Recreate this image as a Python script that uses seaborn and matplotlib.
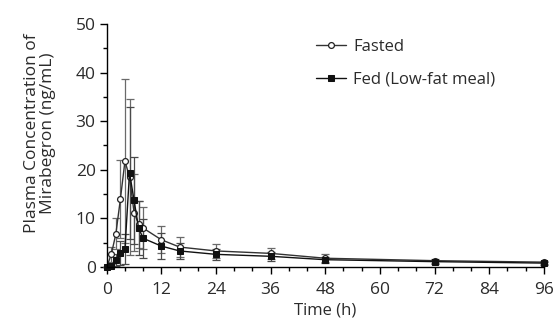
import numpy as np
import pandas as pd
import matplotlib
matplotlib.use("Agg")
import matplotlib.pyplot as plt
import seaborn as sns
from matplotlib.ticker import MultipleLocator

# Mean plasma concentration (ng/mL) with SD
time_h = [0, 1, 2, 3, 4, 5, 6, 7, 8, 12, 16, 24, 36, 48, 72, 96]
fasted_mean = [0.0, 2.6, 6.8, 14.0, 21.8, 18.5, 11.2, 8.8, 8.0, 5.6, 4.1, 3.3, 2.8, 1.8, 1.3, 1.0]
fasted_sd = [0.0, 1.5, 3.2, 8.0, 16.8, 16.0, 8.0, 4.8, 4.4, 2.8, 2.0, 1.5, 1.1, 0.8, 0.4, 0.3]
fed_mean = [0.0, 0.3, 1.4, 2.9, 3.7, 19.4, 13.7, 8.0, 5.9, 4.3, 3.3, 2.6, 2.2, 1.5, 1.1, 0.8]
fed_sd = [0.0, 0.4, 1.2, 2.4, 3.0, 13.6, 9.0, 5.6, 4.0, 2.6, 1.7, 1.2, 0.9, 0.6, 0.4, 0.3]

df = pd.DataFrame({
    "Time": time_h * 2,
    "Conc": fasted_mean + fed_mean,
    "Group": ["Fasted"] * len(time_h) + ["Fed (Low-fat meal)"] * len(time_h),
})

sns.set_style("ticks")
plt.rcParams["font.family"] = ["Open Sans", "DejaVu Sans"]
txt = "#2b2b2b"

fig = plt.figure(figsize=(5.56, 3.28), dpi=100)
ax = fig.add_axes([0.192, 0.186, 0.786, 0.741])

# error bars first (gray)
ax.errorbar(time_h, fasted_mean, yerr=fasted_sd, fmt="none", ecolor="#6a6a6a",
            elinewidth=0.9, capsize=3, capthick=0.9, clip_on=False)
ax.errorbar(time_h, fed_mean, yerr=fed_sd, fmt="none", ecolor="#4a4a4a",
            elinewidth=0.9, capsize=3, capthick=0.9, clip_on=False)

sns.lineplot(data=df, x="Time", y="Conc", hue="Group", style="Group",
             markers={"Fasted": "o", "Fed (Low-fat meal)": "s"}, dashes=False,
             palette={"Fasted": "#333333", "Fed (Low-fat meal)": "#111111"},
             linewidth=1.0, markersize=4.2, ax=ax, clip_on=False)

for ln in ax.get_lines():
    if ln.get_marker() == "o":
        ln.set_markerfacecolor("white")
        ln.set_markeredgecolor("#222222")
        ln.set_markeredgewidth(0.9)
    elif ln.get_marker() == "s":
        ln.set_markerfacecolor("#111111")
        ln.set_markeredgecolor("#111111")
    ln.set_clip_on(False)

ax.set_xlim(0, 96)
ax.set_ylim(0, 50)
ax.xaxis.set_major_locator(MultipleLocator(12))
ax.xaxis.set_minor_locator(MultipleLocator(4))
ax.yaxis.set_major_locator(MultipleLocator(10))
ax.yaxis.set_minor_locator(MultipleLocator(5))
ax.tick_params(which="major", length=5, width=1, labelsize=12.5, color="black",
               labelcolor=txt, pad=3)
ax.tick_params(axis="x", which="major", pad=6)
ax.tick_params(which="minor", length=3, width=1, color="black")
sns.despine(ax=ax)
for s in ["left", "bottom"]:
    ax.spines[s].set_linewidth(1)
    ax.spines[s].set_color("black")

ax.set_xlabel("Time (h)", fontsize=12, labelpad=3, color=txt)
ax.set_ylabel("Plasma Concentration of\nMirabegron (ng/mL)", fontsize=12.5,
              color=txt, linespacing=1.05)
ax.yaxis.set_label_coords(-0.115, 0.55)

leg = ax.legend(loc="upper left", bbox_to_anchor=(0.445, 1.0), frameon=False,
                fontsize=12, handlelength=1.8, handletextpad=0.4,
                labelspacing=1.0, title=None)
for h in leg.legend_handles:
    h.set_linewidth(1.0)
for t in leg.get_texts():
    t.set_color(txt)

fig.savefig("out.png", dpi=100)
